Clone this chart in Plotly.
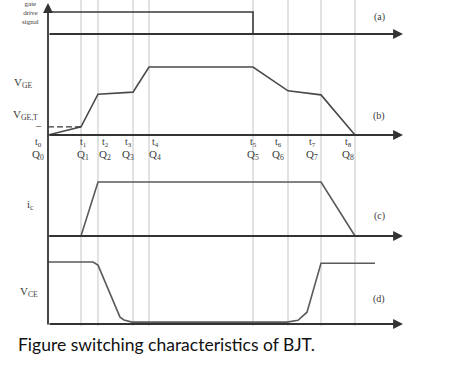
import plotly.graph_objects as go

# ---- data (time in arbitrary units, amplitudes normalised) ----
t_names = ["t0", "t1", "t2", "t3", "t4", "t5", "t6", "t7", "t8"]
q_names = ["Q0", "Q1", "Q2", "Q3", "Q4", "Q5", "Q6", "Q7", "Q8"]
t_pos = [0, 3.3, 5.0, 8.5, 10.1, 20.5, 24.0, 27.3, 30.7]
t_label_x = [-1.0, 3.5, 5.7, 8.0, 10.7, 20.5, 23.0, 26.4, 30.0]

gate_t = [0, 20.5, 20.5]
gate_v = [1, 1, 0]

vge_v = [0, 0.12, 0.60, 0.63, 1.0, 1.0, 0.65, 0.59, 0.0]
vge_th = 0.12

ic_v = [0, 0, 1, 1, 1, 1, 1, 1, 0]

vce_t = [0, 4.5, 5.0, 7.2, 7.6, 8.4, 23.9, 25.0, 25.9, 27.3, 32.7]
vce_v = [1, 1, 0.95, 0.11, 0.065, 0.03, 0.03, 0.06, 0.19, 0.98, 0.98]

x_end = 35.5

# ---- layout helpers ----
W, H = 475, 368
L = 48
PAD = 0.1
SCALE = 10  # px per time unit
panels = {  # baseline pixel row, top pixel row
    "y": (34, 12),
    "y2": (135, 67),
    "y3": (236, 182),
    "y4": (324, 262),
}


def dom(base, top):
    h = base - top
    return [1 - (base + PAD * h) / H, 1 - (top - PAD * h) / H]


def px(xpix):
    return (xpix - L) / (W - L)


def tx(tunit):
    return tunit * SCALE / (W - L)


def label(x, ypix, text, font, xanchor="center"):
    return dict(x=x, y=1 - ypix / H, xref="paper", yref="paper", xanchor=xanchor, yanchor="middle",
                showarrow=False, text=text, font=font)


wave = dict(color="#4a4a4a", width=1.6)
fig = go.Figure()
fig.add_trace(go.Scatter(x=gate_t, y=gate_v, mode="lines", line=dict(color="#3a3a3a", width=1.6), yaxis="y"))
fig.add_trace(go.Scatter(x=t_pos, y=vge_v, mode="lines", line=wave, yaxis="y2"))
fig.add_trace(go.Scatter(x=[0, t_pos[1]], y=[vge_th, vge_th], mode="lines",
                         line=dict(color="#3a3a3a", width=1.4, dash="6px,3px"), yaxis="y2"))
fig.add_trace(go.Scatter(x=t_pos, y=ic_v, mode="lines", line=dict(color="#5a5a5a", width=1.6), yaxis="y3"))
fig.add_trace(go.Scatter(x=vce_t, y=vce_v, mode="lines", line=dict(color="#5a5a5a", width=1.6), yaxis="y4"))

shapes = []
for tp in t_pos[1:]:
    shapes.append(dict(type="line", xref="x", yref="paper", x0=tp, x1=tp,
                       y0=1 - 326 / H, y1=1, line=dict(color="#e2e2e2", width=2), layer="below"))

ann = []
# horizontal axes with arrows
for k, (base, top) in panels.items():
    ann.append(dict(x=x_end, y=1 - base / H, xref="x", yref="paper", ax=-(x_end * SCALE), ay=0,
                    axref="pixel", ayref="pixel", showarrow=True, arrowhead=2, arrowsize=1.1,
                    arrowwidth=1.8, arrowcolor="#333333", text=""))
# vertical axis
ann.append(dict(x=0, y=1 - 3 / H, xref="x", yref="paper", ax=0, ay=323, showarrow=True,
                arrowhead=2, arrowsize=1.1, arrowwidth=1.8, arrowcolor="#333333", text=""))

small = dict(family="Liberation Serif", size=10, color="#3a3a3a")
qfont = dict(family="Liberation Serif", size=11, color="#3a3a3a")
for name, q, lx in zip(t_names, q_names, t_label_x):
    ann.append(label(tx(lx), 142, f"{name[0]}<sub>{name[1]}</sub>", small))
    ann.append(label(tx(lx), 155, f"{q[0]}<sub>{q[1]}</sub>", qfont))

side = [("(a)", 17), ("(b)", 116), ("(c)", 216), ("(d)", 299)]
for txt, py in side:
    ann.append(label(px(379), py, txt, small))

left = [("gate<br>drive<br>signal", 30, 13, 7), ("V<sub>GE</sub>", 23, 83, 11),
        ("V<sub>GE,T</sub>", 25, 115, 11), ("i<sub>c</sub>", 30, 205, 11), ("V<sub>CE</sub>", 29, 292, 11)]
for txt, lpx, py, fs in left:
    ann.append(label(px(lpx), py, txt, dict(family="Liberation Serif", size=fs, color="#3a3a3a")))
ann.append(label(px(38), 125, "–", dict(family="Liberation Serif", size=10, color="#333333")))

ann.append(label(px(16), 344, "Figure switching characteristics of BJT.",
                 dict(family="Lato", size=17.5, color="#111111"), xanchor="left"))

layout = dict(
    width=W, height=H, margin=dict(l=L, r=0, t=0, b=0),
    paper_bgcolor="white", plot_bgcolor="rgba(0,0,0,0)", showlegend=False,
    xaxis=dict(domain=[0, 1], range=[0, (W - L) / SCALE], visible=False, fixedrange=True),
    shapes=shapes, annotations=ann,
)
for k, (base, top) in panels.items():
    key = "yaxis" if k == "y" else "yaxis" + k[1:]
    layout[key] = dict(domain=dom(base, top), range=[-PAD, 1 + PAD], visible=False, anchor="x")
fig.update_layout(**layout)
fig.write_html("out.html")
